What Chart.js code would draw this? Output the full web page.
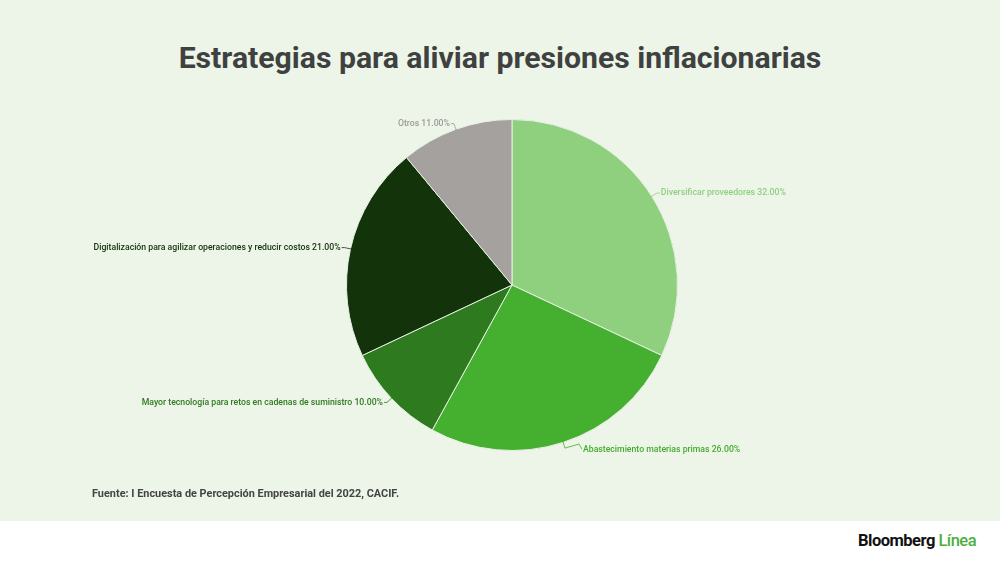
<!DOCTYPE html>
<html>
<head>
<meta charset="utf-8">
<script src="https://cdn.jsdelivr.net/npm/chart.js@4/dist/chart.umd.min.js"></script>
<style>
  html, body { margin: 0; padding: 0; }
  body { width: 1000px; height: 562px; position: relative; background: #fff; font-family: Roboto, sans-serif; overflow: hidden; }
  #panel { position: absolute; left: 0; top: 0; width: 1000px; height: 521px; background: #ecf5e8; }
  #title { position: absolute; left: 0; width: 1000px; top: 40px; text-align: center; font-size: 30.2px; font-weight: bold; color: #3f4140; }
  #source { position: absolute; left: 92px; top: 487px; font-size: 10.9px; font-weight: bold; color: #444; }
  #logo { position: absolute; left: 858px; top: 531px; font-size: 16.5px; font-weight: bold; letter-spacing: -0.5px; color: #111; }
  #logo span { color: #4caf3c; font-weight: 500; }
  #wrap { position: absolute; left: 0; top: 0; width: 1000px; height: 521px; }
</style>
</head>
<body>
<div id="panel"></div>
<div id="title">Estrategias para aliviar presiones inflacionarias</div>
<div id="wrap"><canvas id="graph"></canvas></div>
<div id="source">Fuente: I Encuesta de Percepción Empresarial del 2022, CACIF.</div>
<div id="logo">Bloomberg <span>Línea</span></div>
<script>
var labels = [
    "Diversificar proveedores",
    "Abastecimiento materias primas",
    "Mayor tecnología para retos en cadenas de suministro",
    "Digitalización para agilizar operaciones y reducir costos",
    "Otros"
];
var shares = [32, 26, 10, 21, 11];
var colors = ["#8fd07f", "#45b02f", "#2e7a1f", "#13330b", "#a5a19f"];
var labelColors = ["#8fcf80", "#45ab30", "#2f7a20", "#13330b", "#9e9a98"];

// draw labels outside with a small elbow leader line
var outsideLabels = {
    id: "outsideLabels",
    afterDatasetsDraw: function(chart) {
        var ctx = chart.ctx;
        var meta = chart.getDatasetMeta(0);
        ctx.save();
        ctx.font = "500 8.7px Roboto, sans-serif";
        ctx.textBaseline = "middle";
        meta.data.forEach(function(arc, i) {
            var mid = (arc.startAngle + arc.endAngle) / 2;
            var r = arc.outerRadius;
            var cx = arc.x, cy = arc.y;
            var x0 = cx + Math.cos(mid) * (r - 2);
            var y0 = cy + Math.sin(mid) * (r - 2);
            var x1 = cx + Math.cos(mid) * (r + 6);
            var y1 = cy + Math.sin(mid) * (r + 6);
            var right = Math.cos(mid) >= 0;
            // the bottom label sits a bit further out
            var run = i === 1 ? 14 : 3;
            var x2 = x1 + (right ? run : -run);
            var y2 = i === 1 ? y1 - 4 : y1;
            ctx.strokeStyle = labelColors[i];
            ctx.lineWidth = 0.8;
            ctx.beginPath();
            ctx.moveTo(x0, y0);
            ctx.lineTo(x1, y1);
            ctx.lineTo(x2, y2);
            if (i === 1) ctx.lineTo(x2 + 3, y1 + 1);
            ctx.stroke();
            ctx.fillStyle = labelColors[i];
            ctx.textAlign = right ? "left" : "right";
            var txt = labels[i] + " " + shares[i].toFixed(2) + "%";
            var tx = i === 1 ? x2 + 4 : x2 + (right ? 1 : -1);
            ctx.fillText(txt, tx, i === 1 ? y1 + 2 : y1);
        });
        ctx.restore();
    }
};

var ctx = document.getElementById("graph").getContext("2d");
var chart = new Chart(ctx, {
    type: "pie",
    data: {
        labels: labels,
        datasets: [{
            data: shares,
            backgroundColor: colors,
            borderColor: "#e6efe2",
            borderWidth: 1
        }]
    },
    options: {
        responsive: true,
        maintainAspectRatio: false,
        animation: false,
        layout: { padding: { top: 119, bottom: 70, left: 346, right: 322 } },
        plugins: {
            legend: { display: false },
            tooltip: { enabled: false }
        }
    },
    plugins: [outsideLabels]
});
</script>
</body>
</html>
